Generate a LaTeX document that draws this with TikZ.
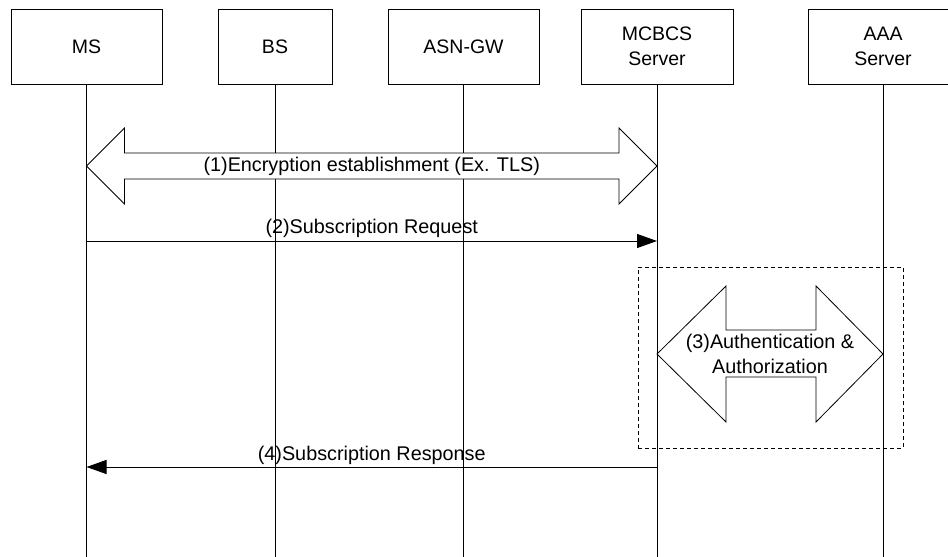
\documentclass[tikz,border=0pt]{standalone}
\usepackage{fontspec}
\setmainfont{Liberation Sans}
\usetikzlibrary{arrows.meta,calc}
\begin{document}
\begin{tikzpicture}[x=1pt,y=-1pt,
  font=\fontsize{19.5}{25}\selectfont,
  actor/.style={draw, line width=0.8pt, minimum height=75pt, align=center, inner sep=0pt},
  life/.style={line width=0.8pt},
  msg/.style={line width=1pt, -{Triangle[length=20pt,width=14pt]}},
  fat/.style={draw, line width=0.8pt, fill=white, line join=miter},
  lbl/.style={font=\fontsize{19.8}{25}\selectfont, align=center, inner sep=0pt}]
\useasboundingbox (0,0) rectangle (948,557);
\clip (0,0) rectangle (948,557);
% actors
\node[actor, minimum width=151pt] (ms)  at (86.5,46.5) {MS};
\node[actor, minimum width=114pt] (bs)  at (275,46.5) {BS};
\node[actor, minimum width=151pt] (asn) at (463.5,46.5) {ASN-GW};
\node[actor, minimum width=152pt] (mc)  at (657,46.5) {MCBCS\\Server};
\node[actor, minimum width=150pt] (aaa) at (883,46.5) {AAA\\Server};
% lifelines
\foreach \n in {ms,bs,asn,mc,aaa}
  \draw[life] (\n.south) -- (\n.south |- 0,557);
% (1) encryption establishment
\path (ms.south |- 0,166) coordinate (e1) (mc.south |- 0,166) coordinate (e2);
\draw[fat] (e1) -- ++(38,-38) -- ++(0,25) -- ($(e2)+(-38,-13)$) -- ++(0,-25) -- (e2)
  -- ++(-38,38) -- ++(0,-25) -- ($(e1)+(38,13)$) -- ++(0,25) -- cycle;
\node[lbl] (l1) at ($(e1)!0.5!(e2)$) {(1)Encryption establishment (Ex. TLS)};
% (2) subscription request
\draw[msg] (ms.south |- 0,241) coordinate (r1) -- (mc.south |- 0,241) coordinate (r2);
\node[lbl] (l2) at ($(r1)!0.5!(r2)+(0,-13)$) {(2)Subscription Request};
% group box
\node[draw, dashed, dash pattern=on 4pt off 3pt, line width=0.8pt, minimum width=265pt, minimum height=181pt, inner sep=0pt] (grp) at (770.5,357.5) {};
% (3) authentication & authorization
\path (mc.south |- 0,354) coordinate (f1) (aaa.south |- 0,354) coordinate (f2);
\draw[fat] (f1) -- ++(69,-68) -- ++(0,44) -- ($(f2)+(-67,-24)$) -- ++(0,-44) -- (f2)
  -- ++(-67,68) -- ++(0,-45) -- ($(f1)+(69,23)$) -- ++(0,45) -- cycle;
\node[lbl] (l3) at ($(f1)!0.5!(f2)$) {(3)Authentication \&\\Authorization};
% (4) subscription response
\draw[msg] (mc.south |- 0,467) coordinate (s1) -- (ms.south |- 0,467) coordinate (s2);
\node[lbl] (l4) at ($(s1)!0.5!(s2)+(0,-12)$) {(4)Subscription Response};
\end{tikzpicture}
\end{document}
